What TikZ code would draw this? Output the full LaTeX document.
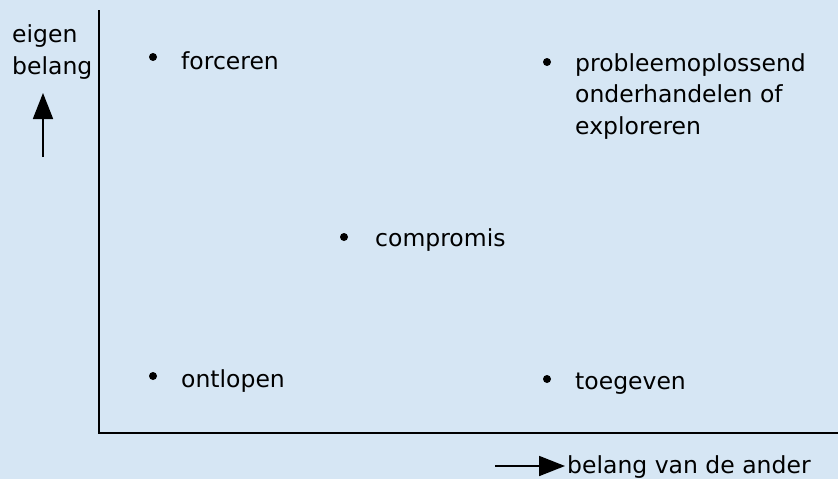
\documentclass[tikz,border=0pt]{standalone}
\usepackage{fontspec}
\setmainfont{DejaVu Sans}
\usetikzlibrary{arrows.meta}
\definecolor{bg}{RGB}{214,230,244}
\begin{document}
\begin{tikzpicture}[x=1pt,y=-1pt,
  lbl/.style={font=\fontsize{23.5}{31.5}\selectfont, inner sep=0pt, anchor=base west, align=left},
  dot/.style={circle, fill=black, inner sep=0pt, minimum size=8pt},
  axis/.style={line width=2.5pt},
  arr/.style={line width=1.8pt, -{Triangle[length=26pt,width=20pt]}}]
\fill[bg] (0,0) rectangle (838,479);
\useasboundingbox (0,0) rectangle (838,479);
% axes
\coordinate (top) at (99,10);
\coordinate (origin) at (99,433);
\coordinate (right) at (838,433);
\draw[axis] (top) -- (origin) -- (right);
% axis labels
\node[lbl] (eigen) at (12,42) {eigen};
\node[lbl] (belang) at (12,74) {belang};
\coordinate (ua) at (43,157);
\coordinate (ub) at (43,93);
\draw[arr] (ua) -- (ub);
\coordinate (ra) at (495,466);
\coordinate (rb) at (565,466);
\draw[arr] (ra) -- (rb);
\node[lbl] (bva) at (567,473) {belang van de ander};
% items
\node[dot] (d1) at (153,57) {};
\node[lbl] (t1) at (181,69) {forceren};
\node[dot] (d2) at (547,62) {};
\node[lbl] (t2) at (575,134) {probleemoplossend\\onderhandelen of\\exploreren};
\node[dot] (d3) at (344,237) {};
\node[lbl] (t3) at (375,246) {compromis};
\node[dot] (d4) at (153,376) {};
\node[lbl] (t4) at (181,387) {ontlopen};
\node[dot] (d5) at (547,379) {};
\node[lbl] (t5) at (575,389) {toegeven};
\end{tikzpicture}
\end{document}
